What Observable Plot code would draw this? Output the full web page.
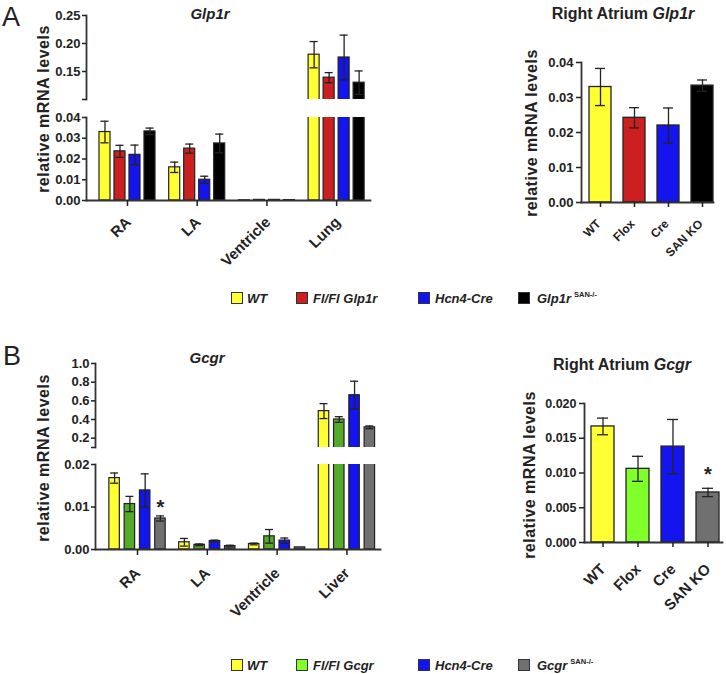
<!DOCTYPE html>
<html><head><meta charset="utf-8">
<script src="https://cdn.jsdelivr.net/npm/d3@7"></script>
<script src="https://cdn.jsdelivr.net/npm/@observablehq/plot@0.6"></script>
<style>
body{margin:0;background:#fff;}
#wrap{position:relative;width:726px;height:674px;overflow:hidden;font-family:"Liberation Sans",Arial,sans-serif;color:#222;background:#fff;}
#wrap svg{position:absolute;left:0;top:0;}
.t{position:absolute;white-space:nowrap;font-weight:bold;line-height:1;}
.sw{position:absolute;width:10px;height:10px;border:1px solid #333;}
</style></head><body><div id="wrap"></div>
<script>
// ---------- data: Glp1r (panel A) ----------
const glp1rTissues = ["RA", "LA", "Ventricle", "Lung"];
const glp1rGroups = ["WT", "Fl/Fl Glp1r", "Hcn4-Cre", "Glp1r"];
const glp1rColors = ["#ffff33", "#cc2020", "#1414ee", "#000000"];
const glp1rRA = [0.0330, 0.0237, 0.0220, 0.0333];
const glp1rRAErr = [0.0052, 0.0029, 0.0047, 0.0016];
const glp1rLA = [0.0160, 0.0250, 0.0100, 0.0275];
const glp1rLAErr = [0.0025, 0.0022, 0.0017, 0.0045];
const glp1rVent = [0.0001, 0.0003, 0.0003, 0.0002];
const glp1rVentErr = [0, 0, 0, 0];
const glp1rLung = [0.180, 0.139, 0.175, 0.130];
const glp1rLungErr = [0.0235, 0.009, 0.040, 0.021];
const glp1rLowerTicks = [0, 0.01, 0.02, 0.03, 0.04];
const glp1rUpperTicks = [0.10, 0.15, 0.20, 0.25];
const glp1rRightLabels = ["WT", "Flox", "Cre", "SAN KO"];
const glp1rRight = [0.0330, 0.0242, 0.0220, 0.0334];
const glp1rRightErr = [0.0053, 0.0029, 0.0050, 0.0016];
const glp1rRightTicks = [0, 0.01, 0.02, 0.03, 0.04];

// ---------- data: Gcgr (panel B) ----------
const gcgrTissues = ["RA", "LA", "Ventricle", "Liver"];
const gcgrGroups = ["WT", "Fl/Fl Gcgr", "Hcn4-Cre", "Gcgr"];
const gcgrColorsLeft = ["#ffff33", "#55aa2a", "#1414ee", "#707070"];
const gcgrColorsRight = ["#ffff33", "#80ff2a", "#1414ee", "#707070"];
const gcgrRA = [0.0168, 0.0107, 0.0139, 0.0073];
const gcgrRAErr = [0.0012, 0.0018, 0.0039, 0.0006];
const gcgrLA = [0.0017, 0.0011, 0.0020, 0.0008];
const gcgrLAErr = [0.0009, 0.0002, 0.0002, 0.0002];
const gcgrVent = [0.0013, 0.0031, 0.0021, 0.0005];
const gcgrVentErr = [0.0002, 0.0016, 0.0006, 0];
const gcgrLiver = [0.49, 0.40, 0.66, 0.316];
const gcgrLiverErr = [0.08, 0.03, 0.15, 0.015];
const gcgrLowerTicks = [0, 0.01, 0.02];
const gcgrUpperTicks = [0.1, 0.2, 0.4, 0.6, 0.8, 1.0];
const gcgrRightLabels = ["WT", "Flox", "Cre", "SAN KO"];
const gcgrRight = [0.0167, 0.0106, 0.0138, 0.0072];
const gcgrRightErr = [0.0012, 0.0018, 0.0039, 0.0006];
const gcgrRightTicks = [0, 0.005, 0.010, 0.015, 0.020];

// ---------- helpers ----------
const wrap = document.getElementById("wrap");
const W = 726, H = 674;
const FONT = "'Liberation Sans', Arial, sans-serif";
const INK = "#222";

function rowsOf(tissues, vals, errs) {
  return tissues.flatMap((t, i) => vals[i].map((v, j) => ({i, j, t, v, e: errs[i][j]})));
}

function place(svg) { wrap.appendChild(svg); }

function basePlot(frame, opts) {
  const [l, t, r, b] = frame;
  return Plot.plot({
    width: W, height: H,
    marginLeft: l, marginTop: t, marginRight: W - r, marginBottom: H - b,
    style: {background: "transparent", fontFamily: FONT, fontWeight: "bold", color: INK, overflow: "visible"},
    ...opts
  });
}

function xLabels(data, x, text, y0, size, dx, dy) {
  return Plot.text(data, {x, y: y0, text, rotate: -45, textAnchor: "end", lineAnchor: "top",
    dx, dy, fontSize: size, fontWeight: "bold", fill: INK});
}

function groupedSegment(o) {
  const {tissues, rows, groups, colors, frame, xDomain, step, barW, capW, yDomain, ticks, fmt, lower, labelSize, labelOff, star, starDy} = o;
  const cx = d => d.i + (d.j - 1.5) * step;
  const err = rows.filter(d => d.e > 0);
  const caps = err.flatMap(d => [{...d, y: d.v + d.e}, {...d, y: d.v - d.e}]);
  const f = d3.format(fmt);
  const marks = [
    Plot.rectY(rows, {x1: d => cx(d) - barW / 2, x2: d => cx(d) + barW / 2, y1: 0, y2: "v",
      fill: d => groups[d.j], stroke: "#222", strokeWidth: 1.2, clip: true}),
    Plot.ruleX(err, {x: cx, y1: d => d.v - d.e, y2: d => d.v + d.e, stroke: INK, strokeWidth: 1.3, clip: true}),
    Plot.ruleY(caps, {y: "y", x1: d => cx(d) - capW, x2: d => cx(d) + capW, stroke: INK, strokeWidth: 1.3, clip: true}),
    Plot.frame({anchor: "left", stroke: "#333", strokeWidth: 1.8}),
    Plot.axisY(ticks, {tickFormat: d => (!lower && d === yDomain[0]) ? "" : f(d), tickSize: 4, tickPadding: 2,
      fontSize: 13, fontWeight: "bold", strokeWidth: 1.5, label: null})
  ];
  if (lower) {
    const idx = tissues.map((t, i) => i);
    marks.push(Plot.frame({anchor: "bottom", stroke: "#333", strokeWidth: 1.8}));
    marks.push(Plot.axisX(idx, {tickFormat: () => "", tickSize: 6, strokeWidth: 1.5, label: null}));
    marks.push(xLabels(idx, d => d, i => tissues[i], yDomain[0], labelSize, labelOff[0], labelOff[1]));
  }
  if (star) {
    marks.push(Plot.text(rows.filter(star), {x: cx, y: d => d.v + d.e, text: () => "*", dy: starDy,
      fontSize: 20, fontWeight: "bold", fill: INK}));
  }
  return basePlot(frame, {
    x: lower ? {domain: xDomain} : {domain: xDomain, axis: null},
    y: {domain: yDomain},
    color: {domain: groups, range: colors},
    marks
  });
}

function simplePanel(o) {
  const {labels, vals, errs, colors, frame, pad, yDomain, ticks, fmt, labelSize, labelOff, tickFont, capInset, star, starDy} = o;
  const rows = labels.map((l, j) => ({l, j, v: vals[j], e: errs[j]}));
  const caps = rows.flatMap(d => [{...d, y: d.v + d.e}, {...d, y: d.v - d.e}]);
  const f = d3.format(fmt);
  const marks = [
    Plot.barY(rows, {x: "l", y1: 0, y2: "v", fill: "l", stroke: "#222", strokeWidth: 1.3}),
    Plot.ruleX(rows, {x: "l", y1: d => d.v - d.e, y2: d => d.v + d.e, stroke: INK, strokeWidth: 1.3}),
    Plot.tickY(caps, {x: "l", y: "y", insetLeft: capInset, insetRight: capInset, stroke: INK, strokeWidth: 1.3}),
    Plot.frame({anchor: "left", stroke: "#333", strokeWidth: 1.8}),
    Plot.frame({anchor: "bottom", stroke: "#333", strokeWidth: 1.8}),
    Plot.axisY(ticks, {tickFormat: f, tickSize: 5, tickPadding: 3, fontSize: tickFont, fontWeight: "bold", strokeWidth: 1.5, label: null}),
    Plot.axisX({tickFormat: () => "", tickSize: 5, strokeWidth: 1.5, label: null}),
    xLabels(labels, d => d, d => d, yDomain[0], labelSize, labelOff[0], labelOff[1])
  ];
  if (star) {
    marks.push(Plot.text(rows.filter(star), {x: "l", y: d => d.v + d.e, text: () => "*", dy: starDy,
      fontSize: 20, fontWeight: "bold", fill: INK}));
  }
  return basePlot(frame, {
    x: {domain: labels, paddingInner: pad[0], paddingOuter: pad[1], align: pad[2]},
    y: {domain: yDomain},
    color: {domain: labels, range: colors},
    marks
  });
}

function text(html, x, y, css, center = true) {
  const d = document.createElement("div");
  d.className = "t";
  d.innerHTML = html;
  d.style.left = x + "px";
  d.style.top = y + "px";
  d.style.transform = center ? "translate(-50%,-50%)" : "translateY(-50%)";
  Object.assign(d.style, css || {});
  wrap.appendChild(d);
  return d;
}

function yTitle(x, y) {
  text("relative mRNA levels", x, y, {fontSize: "16px", letterSpacing: "0.5px",
    transform: "translate(-50%,-50%) rotate(-90deg)"});
}

function legend(names, colors, sup, top) {
  const swL = [231, 296, 418, 518], txL = [247, 313, 435, 537];
  names.forEach((n, k) => {
    const s = document.createElement("div");
    s.className = "sw";
    s.style.left = swL[k] + "px";
    s.style.top = top + "px";
    s.style.background = colors[k];
    wrap.appendChild(s);
    const label = k === names.length - 1
      ? `<i>${n}</i><sup style="font-size:7.5px;font-style:normal;margin-left:3px;vertical-align:6px">${sup}</sup>`
      : `<i>${n}</i>`;
    text(label, txL[k], top + 6, {fontSize: "13px"}, false);
  });
}

// ---------- Panel A ----------
const rowsA = rowsOf(glp1rTissues, [glp1rRA, glp1rLA, glp1rVent, glp1rLung], [glp1rRAErr, glp1rLAErr, glp1rVentErr, glp1rLungErr]);
const commonA = {tissues: glp1rTissues, rows: rowsA, groups: glp1rGroups, colors: glp1rColors,
  xDomain: [-0.588, 3.486], step: 0.2152, barW: 0.158, capW: 0.058, fmt: ".2f", labelSize: 15, labelOff: [-3, 15]};
place(groupedSegment({...commonA, frame: [86, 15, 370, 99], yDomain: [0.10, 0.25], ticks: glp1rUpperTicks, lower: false}));
place(groupedSegment({...commonA, frame: [86, 117, 370, 200], yDomain: [0, 0.04], ticks: glp1rLowerTicks, lower: true}));
place(simplePanel({labels: glp1rRightLabels, vals: glp1rRight, errs: glp1rRightErr, colors: glp1rColors,
  frame: [581, 62, 713, 202], pad: [0.355, 0.07, 1], yDomain: [0, 0.04], ticks: glp1rRightTicks, fmt: ".2f",
  labelSize: 12, labelOff: [-5, 16], tickFont: 13, capInset: 6}));

// ---------- Panel B ----------
const rowsB = rowsOf(gcgrTissues, [gcgrRA, gcgrLA, gcgrVent, gcgrLiver], [gcgrRAErr, gcgrLAErr, gcgrVentErr, gcgrLiverErr]);
const commonB = {tissues: gcgrTissues, rows: rowsB, groups: gcgrGroups, colors: gcgrColorsLeft,
  xDomain: [-0.602, 3.481], step: 0.219, barW: 0.15, capW: 0.057, labelSize: 15, labelOff: [-4, 17]};
place(groupedSegment({...commonB, frame: [95, 363, 380, 447], yDomain: [0.1, 1.0], ticks: gcgrUpperTicks, fmt: ".1f", lower: false}));
place(groupedSegment({...commonB, frame: [95, 464, 380, 549], yDomain: [0, 0.02], ticks: gcgrLowerTicks, fmt: ".2f", lower: true,
  star: d => d.i === 0 && d.j === 3, starDy: -8}));
place(simplePanel({labels: gcgrRightLabels, vals: gcgrRight, errs: gcgrRightErr, colors: gcgrColorsRight,
  frame: [584, 403, 722, 542], pad: [0.343, 0.129, 0.667], yDomain: [0, 0.02], ticks: gcgrRightTicks, fmt: ".3f",
  labelSize: 15, labelOff: [-4, 20], tickFont: 12.5, capInset: 6, star: d => d.j === 3, starDy: -14}));

// ---------- titles, labels, legends ----------
text("A", 2, 4, {fontSize: "27px", fontWeight: "normal"}, false).style.transform = "none";
text("B", 3, 343, {fontSize: "27px", fontWeight: "normal"}, false).style.transform = "none";
text("<i>Glp1r</i>", 210, 13, {fontSize: "15px"});
text("Right Atrium <i>Glp1r</i>", 623, 14, {fontSize: "16px"});
text("<i>Gcgr</i>", 207, 357, {fontSize: "15px"});
text("Right Atrium <i>Gcgr</i>", 622, 365, {fontSize: "16px"});
yTitle(44, 109);
yTitle(532, 133);
yTitle(44, 458);
yTitle(530, 475);
legend(glp1rGroups, glp1rColors, "SAN-/-", 292);
legend(gcgrGroups, gcgrColorsRight, "SAN-/-", 659);
</script></body></html>
